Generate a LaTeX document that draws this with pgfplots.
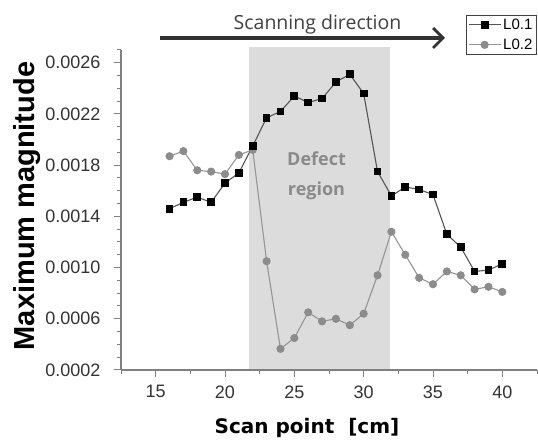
\documentclass[border=0pt]{standalone}
\usepackage{fontspec}
\setmainfont{Liberation Sans}
\newfontfamily\opensans{Open Sans}
\newfontfamily\dejavu{DejaVu Sans}
\usepackage{pgfplots}
\pgfplotsset{compat=1.18}
\usetikzlibrary{arrows.meta}
\definecolor{shade}{HTML}{DCDCDC}
\definecolor{axisgray}{HTML}{808080}
\definecolor{linedark}{HTML}{555555}
\definecolor{linegray}{HTML}{959595}
\definecolor{markgray}{HTML}{8C8C8C}
\definecolor{defgray}{HTML}{8A8A8A}
\definecolor{arrowc}{HTML}{333333}
\begin{document}
\begin{tikzpicture}
\useasboundingbox (0,0) rectangle (538pt,443pt);
\begin{axis}[
  at={(121pt,73pt)}, anchor=south west,
  scale only axis, width=416pt, height=320pt,
  xmin=12.5, xmax=42.5, ymin=0.0002, ymax=0.0027,
  clip=false,
  axis lines=left,
  axis line style={draw=axisgray, line width=1.2pt, -},
  axis on top,
  tick align=outside,
  major tick length=7pt, minor tick length=4pt,
  every tick/.style={draw=axisgray, line width=1pt},
  xtick={15,20,25,30,35,40},
  xticklabels={15,20,25,30,35,40},
  minor xtick={12.5,17.5,22.5,27.5,32.5,37.5,42.5},
  ytick={0.0002,0.0006,0.0010,0.0014,0.0018,0.0022,0.0026},
  yticklabels={0.0002,0.0006,0.0010,0.0014,0.0018,0.0022,0.0026},
  minor ytick={0.0003,0.0004,0.0005,0.0007,0.0008,0.0009,0.0011,0.0012,0.0013,0.0015,0.0016,0.0017,0.0019,0.0020,0.0021,0.0023,0.0024,0.0025,0.0027},
  scaled y ticks=false,
  ticklabel style={font=\fontsize{18}{18}\selectfont, text=black!80},
  yticklabel style={xshift=-10pt},
  xticklabel style={yshift=-5pt},
  ylabel={Maximum magnitude},
  ylabel style={font=\bfseries\fontsize{29}{29}\selectfont, at={(axis description cs:-0.226,0.5125)}, anchor=center},
  xlabel={Scan point\ \ [cm]},
  xlabel style={font=\dejavu\bfseries\fontsize{20}{20}\selectfont, at={(axis description cs:0.447,-0.18)}, anchor=center},
  legend style={at={(axis description cs:1,1.11)}, anchor=north east, draw=black!75, line width=1.2pt,
    font=\fontsize{15}{16}\selectfont, inner xsep=2pt, inner ysep=1.5pt, row sep=4pt, cells={anchor=west}},
  legend image code/.code={
    \draw[#1, mark=none] (0pt,0pt) -- (32pt,0pt);
    \draw[#1, draw=none] plot coordinates {(16pt,0pt)};},
  reverse legend,
]
\addplot[draw=none, fill=shade, forget plot] coordinates {(21.7,0.0002) (21.7,0.00272) (31.9,0.00272) (31.9,0.0002)} -- cycle;
\addplot[color=linegray, line width=1.1pt, mark=*, mark size=3.5pt, mark options={fill=markgray, draw=markgray, solid}] coordinates {
(16,0.00187) (17,0.00191) (18,0.00176) (19,0.00175) (20,0.00173) (21,0.00188) (22,0.00192) (23,0.00105) (24,0.000365) (25,0.00045) (26,0.00065) (27,0.00058) (28,0.00060) (29,0.00055) (30,0.00064) (31,0.00094) (32,0.00128) (33,0.00110) (34,0.00092) (35,0.00087) (36,0.00097) (37,0.00094) (38,0.00083) (39,0.00085) (40,0.00081)};
\addlegendentry{L0.2}
\addplot[color=linedark, line width=1.1pt, mark=square*, mark size=3.3pt, mark options={fill=black, draw=black, solid}] coordinates {
(16,0.00146) (17,0.00151) (18,0.00155) (19,0.00151) (20,0.00166) (21,0.00174) (22,0.00195) (23,0.00217) (24,0.00222) (25,0.00234) (26,0.00229) (27,0.00232) (28,0.00245) (29,0.00251) (30,0.00236) (31,0.00175) (32,0.00156) (33,0.00163) (34,0.00161) (35,0.00157) (36,0.00126) (37,0.00116) (38,0.00097) (39,0.00098) (40,0.00103)};
\addlegendentry{L0.1}
\node[font=\opensans\bfseries\fontsize{18}{18}\selectfont, text=defgray] at (axis cs:26.6,0.00185) {Defect};
\node[font=\opensans\bfseries\fontsize{18}{18}\selectfont, text=defgray] at (axis cs:26.6,0.00160) {region};
\end{axis}
\draw[line width=3.2pt, draw=arrowc, -{Straight Barb[length=10pt, width=20pt, line width=2.8pt]}] (160pt,405pt) -- (445pt,405pt);
\node[font=\opensans\fontsize{19.5}{19.5}\selectfont, text=black!75, anchor=base] at (317.5pt,413pt) {Scanning direction};
\end{tikzpicture}
\end{document}
